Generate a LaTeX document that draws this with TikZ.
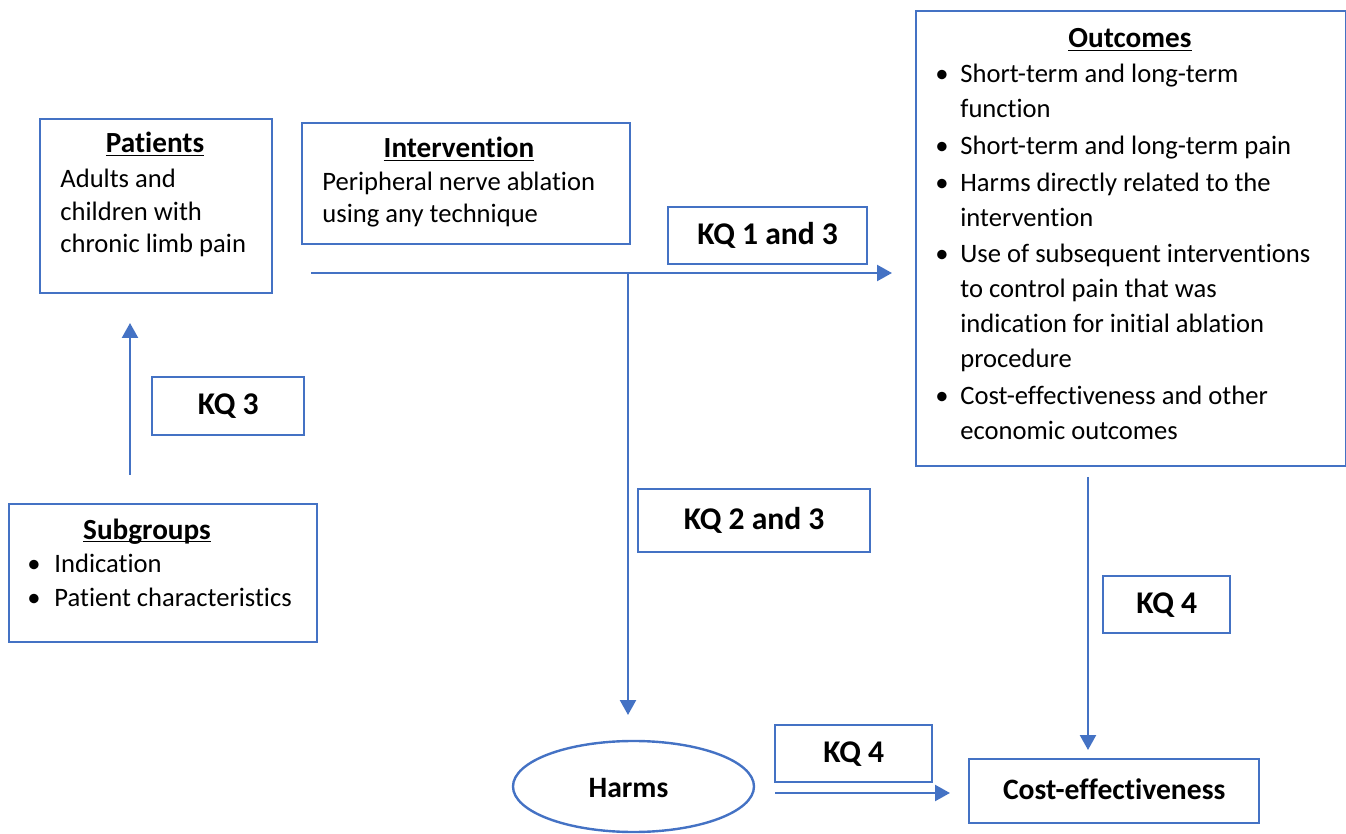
\documentclass[tikz,border=0pt]{standalone}
\usepackage{fontspec}
\setmainfont{Carlito}[Ligatures={NoCommon,NoContextual}]
\usetikzlibrary{shapes.geometric,arrows.meta}
\definecolor{bl}{HTML}{4472C4}
\newcommand\myul[1]{\setbox0\hbox{#1}\rlap{\rule[-1.6pt]{\wd0}{0.75pt}}\box0}
\tikzset{
  bx/.style={draw=bl, line width=1.2pt, rectangle, inner sep=0pt, anchor=north west},
  txt/.style={inner sep=0pt, anchor=base west, font=\fontsize{13.3}{16}\selectfont},
  ttl/.style={inner sep=0pt, anchor=base, font=\fontsize{14.6}{16}\selectfont\bfseries},
  kq/.style={font=\fontsize{15.8}{18}\selectfont\bfseries},
  lbl/.style={font=\fontsize{14.8}{18}\selectfont\bfseries},
  bul/.style={inner sep=0pt, anchor=base, font=\fontsize{13.3}{16}\selectfont},
  arr/.style={draw=bl, line width=1.2pt, -{Triangle[length=7.5pt,width=8pt]}},
}
\begin{document}
\begin{tikzpicture}[x=0.5pt,y=-0.5pt]
\useasboundingbox (0,0) rectangle (1346,834);
% Patients
\node[bx, minimum width=116pt, minimum height=87pt] (pat) at (39,118) {};
\node[ttl] (patt) at (155,153) {\myul{Patients}};
\node[txt] (pat1) at (60,188) {Adults and};
\node[txt] (pat2) at (60,221) {children with};
\node[txt] (pat3) at (60,253) {chronic limb pain};
% Intervention
\node[bx, minimum width=164pt, minimum height=60.5pt] (int) at (301,122) {};
\node[ttl] (intt) at (459,158) {\myul{Intervention}};
\node[txt] (int1) at (322,191) {Peripheral nerve ablation};
\node[txt] (int2) at (322,223) {using any technique};
% KQ 1 and 3
\node[bx, minimum width=99.5pt, minimum height=28.5pt] (kq13) at (667,206) {};
\node[kq] (kq13t) at (kq13.center) {KQ 1 and 3};
% Outcomes
\node[bx, minimum width=215pt, minimum height=227.5pt] (out) at (915,10) {};
\node[ttl] (outt) at (1130,48) {\myul{Outcomes}};
\foreach \y in {83,155,192,263,405}
  \node[bul] (ob\y) at (942,\y) {\textbullet};
\node[txt] (o1) at (960,83) {Short-term and long-term};
\node[txt] (o2) at (960,118) {function};
\node[txt] (o3) at (960,155) {Short-term and long-term pain};
\node[txt] (o4) at (960,192) {Harms directly related to the};
\node[txt] (o5) at (960,227) {intervention};
\node[txt] (o6) at (960,263) {Use of subsequent interventions};
\node[txt] (o7) at (960,298) {to control pain that was};
\node[txt] (o8) at (960,333) {indication for initial ablation};
\node[txt] (o9) at (960,368) {procedure};
\node[txt] (o10) at (960,405) {Cost-effectiveness and other};
\node[txt] (o11) at (960,440) {economic outcomes};
% KQ 3
\node[bx, minimum width=76pt, minimum height=29pt] (kq3) at (151,376) {};
\node[kq] (kq3t) at (kq3.center) {KQ 3};
% Subgroups
\node[bx, minimum width=154pt, minimum height=69pt] (sub) at (8,503) {};
\node[ttl] (subt) at (147,539) {\myul{Subgroups}};
\node[bul] (sb1) at (34,573) {\textbullet};
\node[bul] (sb2) at (34,607) {\textbullet};
\node[txt] (s1) at (54,573) {Indication};
\node[txt] (s2) at (54,607) {Patient characteristics};
% KQ 2 and 3
\node[bx, minimum width=116pt, minimum height=31.5pt] (kq23) at (637,488) {};
\node[kq] (kq23t) at (kq23.center) {KQ 2 and 3};
% KQ 4 right
\node[bx, minimum width=63.5pt, minimum height=28.5pt] (kq4a) at (1102,575) {};
\node[kq] (kq4at) at (kq4a.center) {KQ 4};
% Harms
\node[draw=bl, line width=1.2pt, ellipse, minimum width=120.5pt, minimum height=45.5pt, inner sep=0pt] (harms) at (633.5,786.5) {};
\node[lbl] (harmst) at ([xshift=-2.5pt,yshift=-1pt]harms.center) {Harms};
% KQ 4 lower
\node[bx, minimum width=78.5pt, minimum height=28.5pt] (kq4b) at (774,724) {};
\node[kq] (kq4bt) at (kq4b.center) {KQ 4};
% Cost-effectiveness
\node[bx, minimum width=145pt, minimum height=32pt] (cost) at (968,758) {};
\node[lbl] (costt) at ([yshift=1pt]cost.center) {Cost-effectiveness};
% connectors
\coordinate (hs) at (311,273);
\coordinate (he) at (892,273);
\coordinate (j) at (628,273);
\coordinate (jt) at (628,715);
\coordinate (us) at (130,475);
\coordinate (ue) at (130,323);
\coordinate (ds) at (1088,477);
\coordinate (de) at (1088,750);
\coordinate (bs) at (775,793);
\coordinate (be) at (950,793);
\draw[arr] (hs) -- (he);
\draw[arr] (j) -- (jt);
\draw[arr] (us) -- (ue);
\draw[arr] (ds) -- (de);
\draw[arr] (bs) -- (be);
\end{tikzpicture}
\end{document}
